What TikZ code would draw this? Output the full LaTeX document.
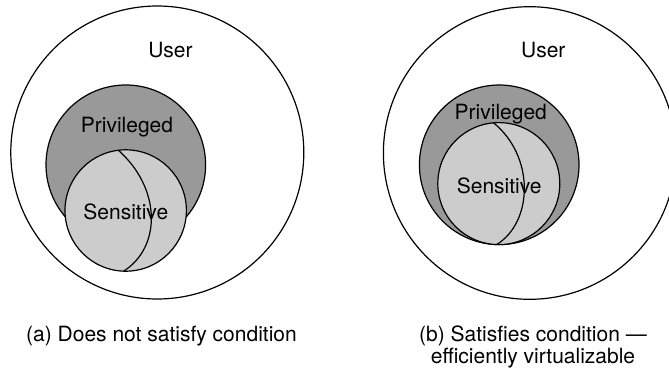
\documentclass[tikz,border=0pt]{standalone}
\usepackage{fontspec}
\setmainfont{TeX Gyre Heros}
\usetikzlibrary{calc}

\begin{document}
\begin{tikzpicture}[x=1pt, y=-1pt,
  ring/.style={line width=1.2pt},
  privileged/.style={ring, fill=black!40},
  sensitive/.style={ring, fill=black!20},
  lbl/.style={anchor=base, inner sep=0pt, font=\fontsize{21}{22.5}\selectfont}]
\useasboundingbox (0,0) rectangle (669,370);
% (a) sensitive set not inside privileged set
\coordinate (userA) at (157.3,152.5);
\coordinate (privA) at (125.8,164.8);
\coordinate (sensA) at (125.7,210.5);
\draw[ring, fill=white] (userA) circle[radius=146.5pt];
\draw[privileged] (privA) circle[radius=79.8pt];
\draw[sensitive] (sensA) circle[radius=60.7pt];
\coordinate (topA) at ($(sensA)+(97:60.7pt)$);
\coordinate (botA) at ($(sensA)+(268:60.7pt)$);
\draw[ring] (topA) .. controls +(43,38) and +(38,-24) .. (botA);
\node[lbl] (userlblA) at (170.5,57.3) {User};
\node[lbl] (privlblA) at (127,132) {Privileged};
\node[lbl] (senslblA) at (125.8,219) {Sensitive};
\node[lbl] (capA) at (161.5,341.7) {(a) Does not satisfy condition};
% (b) sensitive set inside privileged set
\coordinate (userB) at (529.7,153);
\coordinate (privB) at (499.2,164.8);
\coordinate (sensB) at (498.8,183.6);
\draw[ring, fill=white] (userB) circle[radius=146.3pt];
\draw[privileged] (privB) circle[radius=79.8pt];
\draw[sensitive] (sensB) circle[radius=61pt];
\coordinate (topB) at ($(sensB)+(95:61pt)$);
\coordinate (botB) at ($(sensB)+(268:61pt)$);
\draw[ring] (topB) .. controls +(41,33) and +(37,-23) .. (botB);
\node[lbl] (userlblB) at (543.3,57.3) {User};
\node[lbl] (privlblB) at (500.8,119.3) {Privileged};
\node[lbl] (senslblB) at (499.2,193.3) {Sensitive};
\node[lbl, align=center] (capB) at (533,363.5) {(b) Satisfies condition ---\\efficiently virtualizable};
\end{tikzpicture}
\end{document}
